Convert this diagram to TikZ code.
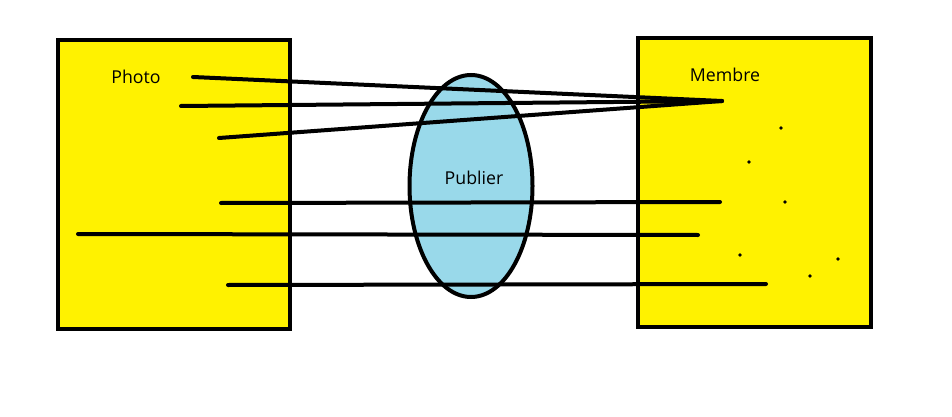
\documentclass[tikz,border=0pt]{standalone}
\usepackage{fontspec}
\setmainfont{Open Sans}
\usetikzlibrary{shapes.geometric}
\definecolor{paintyellow}{HTML}{FFF200}
\definecolor{paintblue}{HTML}{99D9EA}
\begin{document}
\begin{tikzpicture}[x=0.75pt,y=-0.75pt,
  box/.style={draw=black,line width=3pt,fill=paintyellow},
  link/.style={draw=black,line width=3pt,line cap=round},
  lbl/.style={font=\fontsize{13.3pt}{15pt}\selectfont,inner sep=0pt},
  spot/.style={fill=black,circle,inner sep=0pt,minimum size=2.8pt}]
\useasboundingbox[fill=white] (0,0) rectangle (952,417);
\draw[box] (58,40) rectangle (290,329);
\draw[box] (638,38) rectangle (871,327);
\node[draw=black,line width=3pt,fill=paintblue,ellipse,minimum width=123*0.75pt,minimum height=222*0.75pt,inner sep=0pt] (pub) at (471,186) {};
\node[lbl] (photo) at (136,77) {Photo};
\node[lbl] (membre) at (725,75) {Membre};
\node[lbl] (publier) at (474,178) {Publier};
\coordinate (hub) at (722,101);
\coordinate (p1) at (193,77);
\coordinate (p2) at (181,106);
\coordinate (p3) at (219,138);
\coordinate (p4) at (221,203);
\coordinate (m4) at (720,202);
\coordinate (p5) at (78,234);
\coordinate (m5) at (698,235);
\coordinate (p6) at (228,285);
\coordinate (m6) at (766,284);
\draw[link] (p1) -- (hub);
\draw[link] (p2) -- (hub);
\draw[link] (p3) -- (hub);
\draw[link] (p4) -- (m4);
\draw[link] (p5) -- (m5);
\draw[link] (p6) -- (m6);
\node[spot] (d1) at (781,128) {};
\node[spot] (d2) at (749,162) {};
\node[spot] (d3) at (785,202) {};
\node[spot] (d4) at (740,255) {};
\node[spot] (d5) at (838,259) {};
\node[spot] (d6) at (810,276) {};
\end{tikzpicture}
\end{document}
